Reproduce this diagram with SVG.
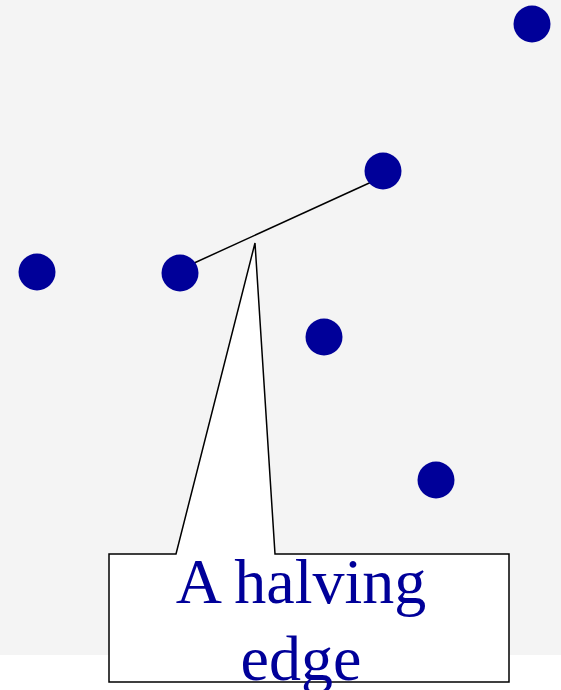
<svg xmlns="http://www.w3.org/2000/svg" width="561" height="690" viewBox="0 0 561 690">
<style>
.dot{fill:#000099}
.lbl{font-family:"Liberation Serif","Times New Roman",serif;font-size:64px;fill:#000099;text-anchor:middle}
</style>
<rect x="0" y="0" width="561" height="690" fill="#ffffff"/>
<rect x="0" y="0" width="561" height="655" fill="#f4f4f4"/>
<g id="connectors">
<line x1="192" y1="264" x2="378" y2="179" stroke="#000" stroke-width="1.5"/>
</g>
<g id="p1"><circle class="dot" cx="532" cy="24" r="18.5"/></g>
<g id="p2"><circle class="dot" cx="383" cy="171" r="18.5"/></g>
<g id="p3"><circle class="dot" cx="37" cy="272" r="18.5"/></g>
<g id="p4"><circle class="dot" cx="180" cy="273" r="18.5"/></g>
<g id="p5"><circle class="dot" cx="324" cy="337" r="18.5"/></g>
<g id="p6"><circle class="dot" cx="436" cy="480" r="18.5"/></g>
<g id="callout">
<path d="M109,554 L176,554 L255,243 L275,554 L509,554 L509,682 L109,682 Z" fill="#ffffff" stroke="#000" stroke-width="1.5"/>
<text class="lbl" x="301" y="603">A halving</text>
<text class="lbl" x="301" y="680">edge</text>
</g>
</svg>
